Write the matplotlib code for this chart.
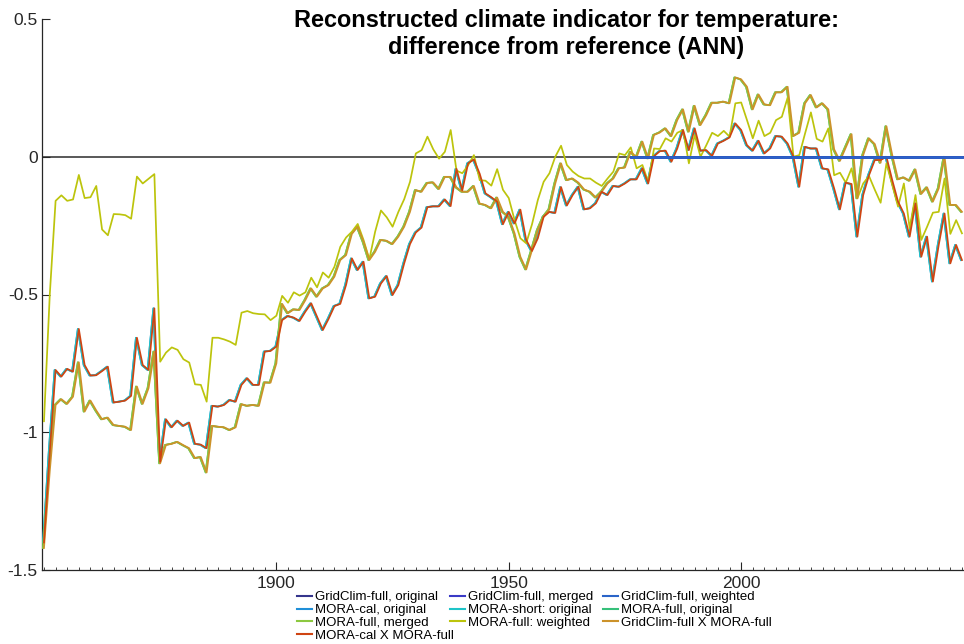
import numpy as np
import matplotlib
matplotlib.use("Agg")
import matplotlib.pyplot as plt
from matplotlib import transforms

plt.rcParams["font.family"] = ["Liberation Sans", "DejaVu Sans"]

# annual values, 1860-2018
years = np.arange(1860, 2019)

# MORA-cal X MORA-full (same trace as MORA-cal / MORA-short originals)
mora_cal_x_full = [
    -1.40, -1.07, -0.774, -0.798, -0.770, -0.780, -0.625, -0.756, -0.794, -0.793,
    -0.778, -0.762, -0.892, -0.889, -0.885, -0.868, -0.657, -0.756, -0.774, -0.550,
    -1.107, -0.953, -0.982, -0.958, -0.977, -0.965, -1.042, -1.045, -1.058, -0.904,
    -0.907, -0.901, -0.883, -0.889, -0.828, -0.804, -0.828, -0.828, -0.707, -0.705,
    -0.689, -0.593, -0.578, -0.584, -0.596, -0.562, -0.532, -0.580, -0.629, -0.588,
    -0.542, -0.534, -0.465, -0.369, -0.411, -0.381, -0.514, -0.508, -0.460, -0.433,
    -0.502, -0.466, -0.387, -0.317, -0.275, -0.257, -0.183, -0.180, -0.180, -0.155,
    -0.179, -0.044, -0.122, -0.024, -0.010, -0.062, -0.133, -0.147, -0.163, -0.245,
    -0.200, -0.242, -0.192, -0.302, -0.342, -0.296, -0.218, -0.200, -0.204, -0.110,
    -0.177, -0.139, -0.109, -0.191, -0.187, -0.169, -0.127, -0.139, -0.106, -0.109,
    -0.097, -0.082, -0.082, -0.042, -0.097, 0.002, 0.020, 0.022, -0.018, 0.030,
    0.097, 0.024, 0.103, 0.022, 0.024, 0.003, 0.048, 0.058, 0.070, 0.121,
    0.097, 0.042, 0.022, 0.058, 0.012, 0.030, 0.075, 0.073, 0.048, 0.000,
    -0.109, 0.036, 0.030, 0.030, -0.042, -0.046, -0.115, -0.191, -0.094, -0.099,
    -0.290, -0.139, -0.067, -0.012, -0.012, 0.000, -0.085, -0.163, -0.206, -0.290,
    -0.169, -0.363, -0.290, -0.453, -0.320, -0.206, -0.387, -0.320, -0.375,
]

# MORA-full original (merged and GridClim X MORA-full follow the same trace)
mora_full_original = [
    -1.42, -1.14, -0.901, -0.880, -0.897, -0.871, -0.746, -0.925, -0.885, -0.921,
    -0.953, -0.947, -0.974, -0.977, -0.980, -0.992, -0.834, -0.897, -0.840, -0.707,
    -1.113, -1.046, -1.042, -1.035, -1.047, -1.058, -1.094, -1.090, -1.146, -0.977,
    -0.980, -0.982, -0.992, -0.982, -0.898, -0.904, -0.901, -0.904, -0.819, -0.820,
    -0.750, -0.534, -0.568, -0.554, -0.556, -0.520, -0.478, -0.508, -0.478, -0.466,
    -0.435, -0.375, -0.357, -0.280, -0.254, -0.308, -0.375, -0.345, -0.302, -0.305,
    -0.317, -0.290, -0.254, -0.200, -0.121, -0.127, -0.095, -0.093, -0.117, -0.073,
    -0.073, -0.111, -0.127, -0.127, -0.106, -0.170, -0.175, -0.187, -0.148, -0.200,
    -0.218, -0.278, -0.363, -0.409, -0.339, -0.266, -0.218, -0.191, -0.097, -0.024,
    -0.085, -0.079, -0.094, -0.119, -0.127, -0.148, -0.127, -0.097, -0.079, -0.042,
    -0.039, 0.018, -0.002, 0.055, -0.006, 0.079, 0.088, 0.103, 0.075, 0.133,
    0.172, 0.091, 0.185, 0.115, 0.151, 0.196, 0.196, 0.200, 0.194, 0.288,
    0.281, 0.254, 0.172, 0.226, 0.190, 0.187, 0.234, 0.234, 0.254, 0.075,
    0.087, 0.194, 0.224, 0.179, 0.194, 0.172, 0.027, -0.015, 0.034, 0.082,
    -0.151, 0.006, 0.067, 0.046, -0.022, 0.111, 0.006, -0.082, -0.075, -0.087,
    -0.046, -0.135, -0.111, -0.163, -0.115, 0.000, -0.175, -0.175, -0.200,
]

# MORA-full: weighted
mora_full_weighted = [
    -0.960, -0.500, -0.160, -0.140, -0.160, -0.155, -0.066, -0.150, -0.147, -0.106,
    -0.264, -0.285, -0.208, -0.209, -0.212, -0.225, -0.072, -0.097, -0.080, -0.063,
    -0.744, -0.711, -0.692, -0.701, -0.735, -0.747, -0.826, -0.828, -0.889, -0.657,
    -0.657, -0.663, -0.671, -0.683, -0.566, -0.560, -0.568, -0.571, -0.572, -0.593,
    -0.577, -0.505, -0.530, -0.492, -0.504, -0.492, -0.439, -0.474, -0.420, -0.439,
    -0.399, -0.327, -0.293, -0.272, -0.244, -0.302, -0.372, -0.272, -0.195, -0.220,
    -0.254, -0.200, -0.154, -0.091, 0.012, 0.024, 0.073, 0.027, -0.007, 0.018,
    0.097, -0.050, -0.060, -0.031, 0.006, -0.085, -0.087, -0.105, -0.045, -0.120,
    -0.150, -0.230, -0.296, -0.314, -0.245, -0.157, -0.091, -0.060, 0.000, 0.040,
    -0.030, -0.054, -0.070, -0.079, -0.079, -0.094, -0.106, -0.079, -0.054, 0.012,
    0.006, 0.034, -0.042, -0.030, -0.091, 0.030, 0.028, 0.067, 0.055, 0.087,
    0.097, -0.024, 0.079, 0.000, 0.042, 0.087, 0.075, 0.094, 0.073, 0.194,
    0.197, 0.133, 0.067, 0.131, 0.075, 0.087, 0.133, 0.145, 0.215, 0.000,
    0.006, 0.085, 0.161, 0.065, 0.055, 0.103, -0.067, -0.058, -0.094, -0.042,
    -0.151, -0.097, -0.070, -0.120, -0.167, -0.024, -0.103, -0.181, -0.097, -0.260,
    -0.139, -0.302, -0.254, -0.203, -0.200, -0.079, -0.280, -0.230, -0.278,
]

# GridClim is the reference itself, so its difference is zero where it exists
gridclim_years = np.arange(1961, 2019)
gridclim_diff = [0.0] * len(gridclim_years)

labels = [
    "GridClim-full, original", "GridClim-full, merged", "GridClim-full, weighted",
    "MORA-cal, original", "MORA-short: original", "MORA-full, original",
    "MORA-full, merged", "MORA-full: weighted", "GridClim-full X MORA-full",
    "MORA-cal X MORA-full",
]
colors = [
    "#35358c", "#3a3ac6", "#2a64c8",
    "#1f8fd8", "#1ec4c8", "#36c07a",
    "#8cc840", "#bcc40c", "#cc922a",
    "#cf4412",
]
series = [
    (gridclim_years, gridclim_diff), (gridclim_years, gridclim_diff),
    (gridclim_years, gridclim_diff),
    (years, mora_cal_x_full), (years, mora_cal_x_full), (years, mora_full_original),
    (years, mora_full_original), (years, mora_full_weighted),
    (years, mora_full_original), (years, mora_cal_x_full),
]
# the overlapping traces underneath sit one pixel to the left
shift_left = {3, 4, 5, 6}

tick_years = [1900, 1940, 1980]
tick_labels = ["1900", "1950", "2000"]

fig = plt.figure(figsize=(9.64, 6.44), dpi=100)
ax = fig.add_axes([42 / 964, 1 - 570 / 644, 1 - 42 / 964, (570 - 19) / 644])

ax.axhline(0, color="#2b2b2b", lw=1.1, zorder=1)

handles = []
for k, ((x, y), lab, col) in enumerate(zip(series, labels, colors)):
    tr = ax.transData
    if k in shift_left:
        tr = transforms.offset_copy(ax.transData, fig=fig, x=-1, y=0, units="dots")
    # the zero-difference GridClim lines sit above the reconstructions
    if k < 3:
        lw, z = 1.8, 20 + k
    else:
        lw, z = 1.25, 2 + k
    (h,) = ax.plot(x, y, color=col, lw=lw, label=lab, transform=tr, zorder=z)
    handles.append(h)

ax.set_xlim(1859.66, 2018.35)
ax.set_ylim(-1.5, 0.5)
ax.set_yticks([0.5, 0, -0.5, -1, -1.5])
ax.set_yticklabels(["0.5", "0", "-0.5", "-1", "-1.5"])
ax.set_xticks(tick_years)
ax.set_xticklabels(tick_labels)
ax.set_xticks(np.arange(1860, 2019, 2), minor=True)

for side in ("top", "right"):
    ax.spines[side].set_visible(False)
for side in ("left", "bottom"):
    ax.spines[side].set_color("#262626")
    ax.spines[side].set_linewidth(0.9)
ax.tick_params(axis="both", which="major", direction="in", length=6, width=0.8,
               labelsize=12.5, colors="#262626")
ax.tick_params(axis="y", pad=3)
ax.tick_params(axis="x", pad=4)
ax.tick_params(axis="x", which="minor", direction="in", length=2.5, width=0.6,
               colors="#262626")

fig.text(566 / 964, 1 - 9 / 644,
         "Reconstructed climate indicator for temperature:\n"
         "difference from reference (ANN)",
         ha="center", va="top", fontsize=16.9, fontweight="bold",
         linespacing=1.2)

# legend laid out row by row in three columns
columns = [[0, 3, 6, 9], [1, 4, 7], [2, 5, 8]]
col_left = [297, 450, 603]
for idx, left in zip(columns, col_left):
    leg = fig.legend([handles[i] for i in idx], [labels[i] for i in idx],
                     loc="upper left", bbox_to_anchor=(left / 964, 1 - 591 / 644),
                     ncol=1, frameon=False, fontsize=9.5, handlelength=1.1,
                     handletextpad=0.25, labelspacing=0.05,
                     borderpad=0, borderaxespad=0)
    for line in leg.get_lines():
        line.set_linewidth(1.5)

fig.savefig("out.png", dpi=100)
